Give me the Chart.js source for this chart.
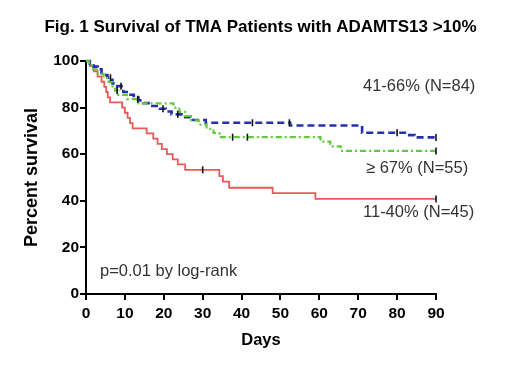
<!DOCTYPE html>
<html><head><meta charset="utf-8">
<script src="https://cdn.jsdelivr.net/npm/chart.js@4"></script>
<style>html,body{margin:0;padding:0;background:#fff}#wrap{width:520px;height:366px}</style>
</head><body><div id="wrap"><canvas id="c" width="520" height="366"></canvas></div>
<script>
const xTicks = [0,10,20,30,40,50,60,70,80,90];
const yTicks = [0,20,40,60,80,100];

const redDays  = [0,1,2,3,4,4.7,5.2,5.6,6.2,9.3,10,10.7,11.3,12,15.6,17.3,18.4,19.5,20.8,22.3,23.6,25.5,34.3,35.2,36.8,48,59,90];
const redSurv  = [100,97.8,95.6,93.3,91.1,88.9,86.7,84.4,82.2,80,77.8,75.6,73.3,71.1,68.9,66.7,64.4,62.2,60,57.8,55.6,53.3,50.6,48.2,45.6,43.3,40.8,40.8];

const blueDays = [0,1,2,3,4,5.5,6.8,8,9.6,11,12.3,13.5,14.8,16.5,19,20.5,22,25,26.8,30.8,52.5,71,82,84.5,90];
const blueSurv = [100,98.8,97.6,96.4,94.0,92.8,90.4,89.2,86.7,85.5,84.3,83.1,81.9,80.7,79.5,78.3,77.1,75.9,74.7,73.5,72.3,69.2,68.2,67.2,67.2];

const greenDays = [0,0.8,1.8,3,4.5,5.8,6.8,7.5,8.3,10.5,13.5,22.5,24,25.5,27,29,31,32.8,34.3,60.3,62.8,65.5,90];
const greenSurv = [100,98.2,96.4,94.5,92.7,90.9,89.1,87.3,85.5,83.6,81.8,80,78.2,76.4,74.5,72.7,70.9,69.1,67.3,65.4,63.4,61.4,61.4];

const redCensor   = [30, 90];
const blueCensor  = [6.3, 9, 19.8, 23.6, 42.8, 52.3, 80, 90];
const greenCensor = [8, 13.3, 37.7, 41.5, 90];

const labels = {
  title: "Fig. 1 Survival of TMA Patients with ADAMTS13 >10%",
  blue: "41-66% (N=84)",
  green: "\u2265 67% (N=55)",
  red: "11-40% (N=45)",
  p: "p=0.01 by log-rank",
  x: "Days",
  y: "Percent survival"
};

function pts(d, s){ return d.map((v,i)=>({x:v,y:s[i]})); }
function survAt(d, s, t){ let v=s[0]; for(let i=0;i<d.length;i++){ if(d[i]<=t) v=s[i]; } return v; }
function cens(c, d, s){ return c.map(t=>({x:t,y:survAt(d,s,t)})); }

const FONT = "'Liberation Sans', Arial, sans-serif";

const textPlugin = {
  id:'texts',
  afterDraw(chart){
    const ctx = chart.ctx;
    ctx.save();
    ctx.fillStyle = '#000';
    ctx.font = "bold 17px " + FONT;
    ctx.textAlign = 'center'; ctx.textBaseline = 'middle';
    ctx.fillText(labels.title, 260.5, 27);
    ctx.fillStyle = '#333';
    ctx.font = "16.5px " + FONT;
    ctx.textAlign = 'left';
    ctx.fillText(labels.blue, 363, 86);
    ctx.fillText(labels.green, 366, 168);
    ctx.fillText(labels.red, 363, 212);
    ctx.fillText(labels.p, 100, 271);
    ctx.restore();
  }
};

const censorStyle = {type:'scatter', showLine:false, pointStyle:'line', rotation:90, pointRadius:3.5, borderColor:'#111', borderWidth:1.6, clip:false};

new Chart(document.getElementById('c'), {
  type:'line',
  data:{ datasets:[
    {...censorStyle, data:cens(redCensor, redDays, redSurv)},
    {...censorStyle, data:cens(blueCensor, blueDays, blueSurv)},
    {...censorStyle, data:cens(greenCensor, greenDays, greenSurv)},
    {data:pts(greenDays, greenSurv), stepped:true, borderColor:'#62c93f', borderWidth:2.2, borderDash:[6,3,2,3], pointRadius:0, fill:false, clip:false},
    {data:pts(blueDays, blueSurv), stepped:true, borderColor:'#2430b0', borderWidth:2.6, borderDash:[7,4], pointRadius:0, fill:false, clip:false},
    {data:pts(redDays, redSurv), stepped:true, borderColor:'#e65a58', borderWidth:1.8, pointRadius:0, fill:false, clip:false}
  ]},
  options:{
    responsive:false, animation:false,
    layout:{padding:{top:61, right:84, left:0, bottom:0}},
    plugins:{legend:{display:false}, tooltip:{enabled:false}},
    scales:{
      x:{type:'linear', min:0, max:90,
        afterBuildTicks(s){ s.ticks = xTicks.map(v=>({value:v})); },
        afterFit(s){ s.height = 72; },
        ticks:{color:'#000', font:{family:FONT, size:15.5, weight:'bold'}, padding:4, maxRotation:0},
        grid:{drawOnChartArea:false, drawTicks:true, tickLength:6, color:'#000', lineWidth:2},
        border:{display:true, color:'#000', width:2},
        title:{display:true, text:labels.x, color:'#000', font:{family:FONT, size:16.5, weight:'bold'}, padding:{top:0, bottom:16}}
      },
      y:{type:'linear', min:0, max:100,
        afterBuildTicks(s){ s.ticks = yTicks.map(v=>({value:v})); },
        afterFit(s){ s.width = 86; },
        ticks:{color:'#000', font:{family:FONT, size:15.5, weight:'bold'}, padding:1},
        grid:{drawOnChartArea:false, drawTicks:true, tickLength:6, color:'#000', lineWidth:2},
        border:{display:true, color:'#000', width:2},
        title:{display:true, text:labels.y, color:'#000', font:{family:FONT, size:18, weight:'bold'}, padding:{top:21, bottom:0}}
      }
    }
  },
  plugins:[textPlugin]
});
</script></body></html>
